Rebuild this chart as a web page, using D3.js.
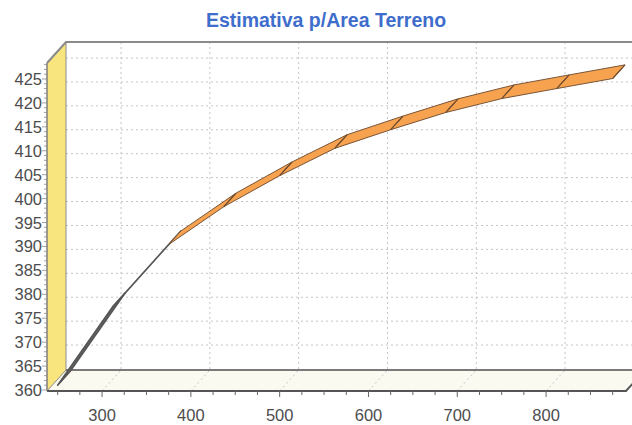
<!DOCTYPE html>
<html lang="en">
<head>
    <meta charset="UTF-8">
    <title>Estimativa p/Area Terreno</title>
    <script src="https://d3js.org/d3.v7.min.js"></script>
    <style>
        body { margin: 0; background: #fff; }
        svg { display: block; font-family: "Liberation Sans", Arial, sans-serif; }
        .tick-label { fill: #4d4d4d; font-size: 16.5px; }
        .grid { stroke: #c4c4c4; stroke-width: 1; stroke-dasharray: 2,3; fill: none; }
    </style>
</head>
<body>
<script>
    const width = 632;
    const height = 425;

    // data
    const title = "Estimativa p/Area Terreno";
    const area = [250, 312, 375, 437, 500, 562, 625, 687, 750, 812, 875];
    const estimate = [361.0, 377.4, 390.4, 398.3, 404.8, 410.5, 414.4, 418.0, 420.9, 423.0, 425.1];
    const yTicks = [360, 365, 370, 375, 380, 385, 390, 395, 400, 405, 410, 415, 420, 425];
    const xTicks = [300, 400, 500, 600, 700, 800];

    // front plane + 3d depth
    const pLeft = 47, pRight = 626, pBottom = 391, pTop = 63;
    const depth = {dx: 19, dy: -21};
    const ribbonFront = 0.0, ribbonBack = 0.65;

    const x = d3.scaleLinear().domain([238, 890]).range([pLeft, pRight]);
    const y = d3.scaleLinear().domain([360, 425]).range([390, 79]);

    const svg = d3.select("body").append("svg")
            .attr("width", width).attr("height", height);

    const line = d3.line();

    // back wall
    svg.append("rect")
        .attr("x", pLeft + depth.dx).attr("y", pTop + depth.dy)
        .attr("width", width).attr("height", pBottom - pTop)
        .attr("fill", "#fff");

    // back wall gridlines
    svg.selectAll("line.hgrid")
        .data(yTicks.filter(d => d > 360))
        .enter().append("line")
        .attr("class", "grid")
        .attr("x1", pLeft + depth.dx).attr("x2", width)
        .attr("y1", d => y(d) + depth.dy).attr("y2", d => y(d) + depth.dy);

    svg.selectAll("line.vgrid")
        .data(xTicks)
        .enter().append("line")
        .attr("class", "grid")
        .attr("x1", d => x(d) + depth.dx).attr("x2", d => x(d) + depth.dx)
        .attr("y1", pTop + depth.dy).attr("y2", pBottom + depth.dy);

    // floor
    svg.append("path")
        .attr("d", line([[pLeft, pBottom], [pLeft + depth.dx, pBottom + depth.dy],
                         [width + 20, pBottom + depth.dy], [pRight, pBottom]]) + "Z")
        .attr("fill", "#fbfaf1");

    svg.selectAll("line.fgrid")
        .data(xTicks)
        .enter().append("line")
        .attr("class", "grid")
        .attr("x1", d => x(d)).attr("y1", pBottom)
        .attr("x2", d => x(d) + depth.dx).attr("y2", pBottom + depth.dy);

    // left wall (yellow)
    svg.append("path")
        .attr("d", line([[pLeft, pBottom], [pLeft, pTop], [pLeft + depth.dx, pTop + depth.dy],
                         [pLeft + depth.dx, pBottom + depth.dy]]) + "Z")
        .attr("fill", "#f9e57e")
        .attr("stroke", "#8c8c8c")
        .attr("stroke-width", 1);

    // back edges of the box
    svg.append("path")
        .attr("d", line([[pLeft, pTop], [pLeft + depth.dx, pTop + depth.dy], [width, pTop + depth.dy]]))
        .attr("fill", "none").attr("stroke", "#8a8a8a").attr("stroke-width", 2);

    svg.append("line")
        .attr("x1", pLeft + depth.dx).attr("x2", width)
        .attr("y1", pBottom + depth.dy).attr("y2", pBottom + depth.dy)
        .attr("stroke", "#7a7a7a").attr("stroke-width", 2);

    // ribbon series
    const pts = area.map((a, i) => ({
        f: [x(a) + depth.dx * ribbonFront, y(estimate[i]) + depth.dy * ribbonFront],
        b: [x(a) + depth.dx * ribbonBack, y(estimate[i]) + depth.dy * ribbonBack]
    }));
    const segs = d3.pairs(pts).map(([p, q]) => {
        const ux = q.f[0] - p.f[0], uy = q.f[1] - p.f[1];
        const vx = p.b[0] - p.f[0], vy = p.b[1] - p.f[1];
        return {poly: [p.f, q.f, q.b, p.b], up: ux * vy - uy * vx < 0};
    });

    svg.selectAll("path.seg")
        .data(segs)
        .enter().append("path")
        .attr("class", "seg")
        .attr("d", d => line(d.poly) + "Z")
        .attr("fill", d => d.up ? "#f7a24f" : "#666")
        .attr("stroke", d => d.up ? "#7a5536" : "#555")
        .attr("stroke-width", d => d.up ? 1 : 1.6)
        .attr("stroke-linejoin", "round");

    svg.selectAll("line.divider")
        .data(pts.filter((p, i) => segs[Math.max(0, i - 1)].up))
        .enter().append("line")
        .attr("x1", d => d.f[0]).attr("y1", d => d.f[1])
        .attr("x2", d => d.b[0]).attr("y2", d => d.b[1])
        .attr("stroke", "#6e4a2c").attr("stroke-width", 1.2);

    // front x axis
    svg.append("path")
        .attr("d", line([[pLeft, pBottom], [pRight, pBottom], [pRight + depth.dx, pBottom + depth.dy]]))
        .attr("fill", "none").attr("stroke", "#555").attr("stroke-width", 2);

    svg.selectAll("line.xminor")
        .data(d3.range(250, 890, 25))
        .enter().append("line")
        .attr("x1", d => x(d)).attr("x2", d => x(d))
        .attr("y1", pBottom).attr("y2", d => pBottom + (d % 100 === 0 ? 6 : 4))
        .attr("stroke", "#666").attr("stroke-width", 1);

    svg.selectAll("text.xlabel")
        .data(xTicks)
        .enter().append("text")
        .attr("class", "tick-label")
        .attr("x", d => x(d)).attr("y", 421)
        .attr("text-anchor", "middle")
        .text(d => d);

    // left y axis
    svg.append("line")
        .attr("x1", pLeft).attr("x2", pLeft).attr("y1", pTop).attr("y2", pBottom)
        .attr("stroke", "#777").attr("stroke-width", 1);

    svg.selectAll("line.yminor")
        .data(d3.range(360, 429, 1))
        .enter().append("line")
        .attr("x1", d => pLeft - (d % 5 === 0 ? 5 : 3)).attr("x2", pLeft)
        .attr("y1", d => y(d)).attr("y2", d => y(d))
        .attr("stroke", "#8a8a8a").attr("stroke-width", 0.8);

    svg.selectAll("text.ylabel")
        .data(yTicks)
        .enter().append("text")
        .attr("class", "tick-label")
        .attr("x", 42).attr("y", d => y(d) + 6)
        .attr("text-anchor", "end")
        .text(d => d);

    // title
    svg.append("text")
        .attr("x", 326).attr("y", 27)
        .attr("text-anchor", "middle")
        .attr("fill", "#3e6dcb")
        .attr("font-size", "19.5px")
        .attr("font-weight", "bold")
        .text(title);
</script>
</body>
</html>
